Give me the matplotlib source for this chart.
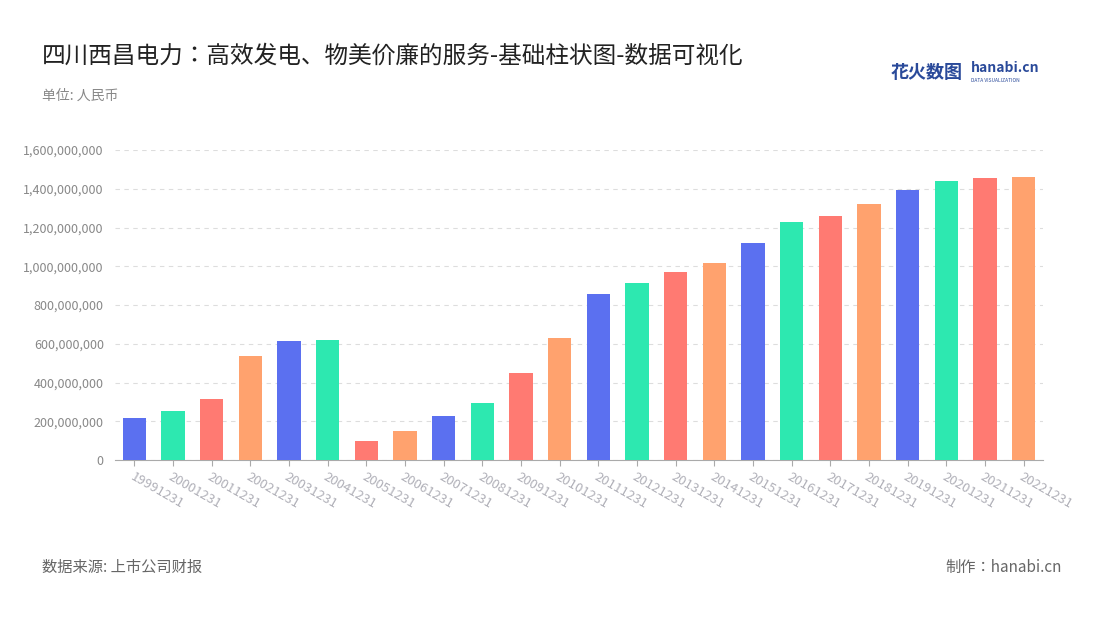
import matplotlib.pyplot as plt
from matplotlib import font_manager
from matplotlib.ticker import FuncFormatter

# register a CJK font if the family name is not found directly
cjk = "Noto Sans CJK SC"
names = {f.name for f in font_manager.fontManager.ttflist}
if cjk not in names:
    for path in font_manager.findSystemFonts():
        if "CJK" in path or "cjk" in path.lower():
            font_manager.fontManager.addfont(path)
    names = {f.name for f in font_manager.fontManager.ttflist}
    cands = [n for n in names if "CJK" in n]
    cjk = "Noto Sans CJK SC" if "Noto Sans CJK SC" in cands else (cands[0] if cands else "DejaVu Sans")
plt.rcParams["font.family"] = [cjk, "DejaVu Sans"]

years = [str(y) + "1231" for y in range(1999, 2023)]
values = [215e6, 252e6, 315e6, 538e6, 615e6, 620e6, 100e6, 150e6,
          228e6, 292e6, 448e6, 632e6, 855e6, 912e6, 970e6, 1018e6,
          1122e6, 1228e6, 1262e6, 1322e6, 1392e6, 1442e6, 1458e6, 1462e6]
palette = ["#5b70f0", "#2de8b0", "#ff7a72", "#ffa26e"]

fig = plt.figure(figsize=(11, 6.2), dpi=100)
ax = fig.add_axes([0.1045, 0.258, 0.8436, 0.5])

colors = [palette[i % 4] for i in range(len(years))]
ax.bar(range(len(years)), values, width=0.6, color=colors, zorder=3)
ax.set_xlim(-0.5, len(years) - 0.5)
ax.set_ylim(0, 1.6e9)
ax.set_yticks([i * 2e8 for i in range(9)])
ax.yaxis.set_major_formatter(FuncFormatter(lambda v, p: f"{int(v):,}"))
ax.set_xticks(range(len(years)))
ax.set_xticklabels(years, rotation=-30, ha="left", rotation_mode="anchor")
ax.tick_params(axis="x", colors="#aaaaaa", labelsize=9.5, length=4, labelcolor="#b0b0b8")
ax.tick_params(axis="y", length=0, labelsize=9, labelcolor="#888888", pad=8)
ax.grid(axis="y", color="#dddddd", linestyle=(0, (4, 4)), zorder=0)
for s in ["top", "right", "left"]:
    ax.spines[s].set_visible(False)
ax.spines["bottom"].set_color("#aaaaaa")

fig.text(0.038, 0.91, "四川西昌电力：高效发电、物美价廉的服务-基础柱状图-数据可视化",
         fontsize=17, color="#222222", va="center")
fig.text(0.038, 0.845, "单位: 人民币", fontsize=10, color="#888888", va="center")
fig.text(0.038, 0.085, "数据来源: 上市公司财报", fontsize=11, color="#666666", va="center")
fig.text(0.965, 0.085, "制作：hanabi.cn", fontsize=11, color="#666666", va="center", ha="right")
fig.text(0.81, 0.883, "花火数图", fontsize=13, color="#2a4a9a", fontweight="bold", va="center")
fig.text(0.883, 0.89, "hanabi.cn", fontsize=10, color="#2a4a9a", fontweight="bold", va="center")
fig.text(0.883, 0.87, "DATA VISUALIZATION", fontsize=3.5, color="#2a4a9a", va="center")

fig.savefig("out.png", dpi=100)
